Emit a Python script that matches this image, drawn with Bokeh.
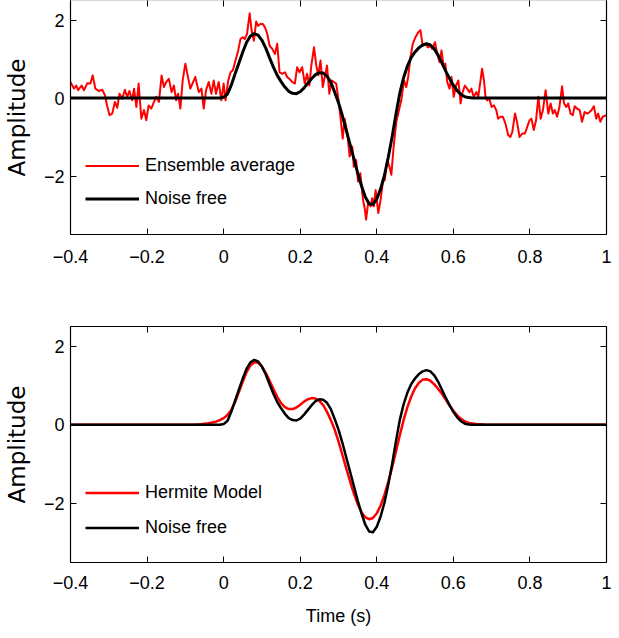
from bokeh.plotting import figure
from bokeh.layouts import column
from bokeh.models import LinearAxis, Range1d, FixedTicker, Legend, LegendItem
from bokeh.embed import file_html
from bokeh.resources import INLINE

# ---------------- data ----------------
x_ticks = [-0.4, -0.2, 0, 0.2, 0.4, 0.6, 0.8, 1]
x_tick_labels = ["\u22120.4", "\u22120.2", "0", "0.2", "0.4", "0.6", "0.8", "1"]
y_ticks = [-2, 0, 2]
y_tick_labels = ["\u22122", "0", "2"]

# noise-free signal
nf_t = [-0.40, -0.02, -0.01, 0.00, 0.01, 0.02, 0.03, 0.04, 0.05, 0.06, 0.07, 0.08, 0.09,
        0.10, 0.11, 0.12, 0.13, 0.14, 0.15, 0.16, 0.17, 0.18, 0.19, 0.20, 0.21, 0.22,
        0.23, 0.24, 0.25, 0.26, 0.27, 0.28, 0.29, 0.30, 0.31, 0.32, 0.33, 0.34, 0.35,
        0.36, 0.37, 0.38, 0.39, 0.40, 0.41, 0.42, 0.43, 0.44, 0.45, 0.46, 0.47, 0.48,
        0.49, 0.50, 0.51, 0.52, 0.53, 0.54, 0.55, 0.56, 0.57, 0.58, 0.59, 0.60, 0.61,
        0.62, 0.63, 0.64, 0.65, 1.00]
nf_amp = [0.0, 0.0, 0.0, 0.02, 0.10, 0.33, 0.62, 0.90, 1.18, 1.43, 1.59, 1.65, 1.61,
          1.48, 1.28, 1.03, 0.79, 0.58, 0.42, 0.28, 0.17, 0.12, 0.11, 0.16, 0.26, 0.38,
          0.50, 0.60, 0.65, 0.64, 0.56, 0.40, 0.15, -0.12, -0.45, -0.82, -1.18, -1.55, -1.92,
          -2.25, -2.54, -2.71, -2.73, -2.59, -2.33, -1.98, -1.52, -1.00, -0.42, 0.12, 0.52, 0.82,
          1.04, 1.18, 1.29, 1.36, 1.39, 1.36, 1.26, 1.10, 0.90, 0.69, 0.50, 0.33, 0.19,
          0.09, 0.03, 0.01, 0.0, 0.0]

# Hermite model
hm_t = [-0.40, -0.10, -0.08, -0.06, -0.04, -0.02, -0.01, 0.00, 0.01, 0.02, 0.03, 0.04,
        0.05, 0.06, 0.07, 0.08, 0.09, 0.10, 0.11, 0.12, 0.13, 0.14, 0.15, 0.16, 0.17,
        0.18, 0.19, 0.20, 0.21, 0.22, 0.23, 0.24, 0.25, 0.26, 0.27, 0.28, 0.29, 0.30,
        0.31, 0.32, 0.33, 0.34, 0.35, 0.36, 0.37, 0.38, 0.39, 0.40, 0.41, 0.42, 0.43,
        0.44, 0.45, 0.46, 0.47, 0.48, 0.49, 0.50, 0.51, 0.52, 0.53, 0.54, 0.55, 0.56,
        0.57, 0.58, 0.59, 0.60, 0.61, 0.62, 0.63, 0.64, 0.66, 0.68, 0.72, 1.00]
hm_amp = [0.0, 0.0, 0.005, 0.015, 0.04, 0.08, 0.12, 0.17, 0.25, 0.38, 0.58, 0.84,
          1.10, 1.34, 1.51, 1.59, 1.58, 1.48, 1.32, 1.12, 0.91, 0.71, 0.55, 0.45, 0.40,
          0.40, 0.44, 0.51, 0.59, 0.65, 0.68, 0.67, 0.61, 0.50, 0.33, 0.12, -0.12, -0.42,
          -0.76, -1.10, -1.43, -1.74, -2.01, -2.22, -2.35, -2.40, -2.37, -2.25, -2.05, -1.78, -1.45,
          -1.08, -0.68, -0.27, 0.12, 0.45, 0.72, 0.93, 1.07, 1.15, 1.16, 1.12, 1.03, 0.92,
          0.79, 0.64, 0.49, 0.36, 0.24, 0.15, 0.09, 0.05, 0.02, 0.01, 0.0, 0.0]

# ensemble average (noisy)
ens_t = [-0.400, -0.391, -0.385, -0.380, -0.371, -0.365, -0.356, -0.348, -0.342, -0.335,
         -0.326, -0.317, -0.310, -0.304, -0.298, -0.291, -0.284, -0.278, -0.272, -0.265,
         -0.258, -0.252, -0.246, -0.239, -0.234, -0.228, -0.222, -0.215, -0.208, -0.202,
         -0.196, -0.189, -0.182, -0.176, -0.169, -0.162, -0.156, -0.150, -0.143, -0.136,
         -0.130, -0.124, -0.119, -0.113, -0.107, -0.100, -0.087, -0.074, -0.065, -0.058,
         -0.052, -0.046, -0.039, -0.032, -0.026, -0.020, -0.013, -0.006, 0.000, 0.005,
         0.012, 0.018, 0.024, 0.031, 0.038, 0.044, 0.050, 0.055, 0.061, 0.068,
         0.073, 0.079, 0.085, 0.090, 0.096, 0.102, 0.108, 0.114, 0.120, 0.127,
         0.134, 0.140, 0.146, 0.153, 0.160, 0.166, 0.172, 0.179, 0.186, 0.192,
         0.198, 0.205, 0.212, 0.218, 0.224, 0.229, 0.236, 0.242, 0.247, 0.253,
         0.259, 0.264, 0.270, 0.276, 0.282, 0.288, 0.294, 0.299, 0.305, 0.311,
         0.316, 0.323, 0.329, 0.336, 0.340, 0.346, 0.351, 0.357, 0.364, 0.369,
         0.372, 0.378, 0.384, 0.388, 0.392, 0.397, 0.404, 0.410, 0.416, 0.421,
         0.427, 0.433, 0.438, 0.444, 0.451, 0.458, 0.464, 0.471, 0.477, 0.482,
         0.488, 0.494, 0.501, 0.508, 0.514, 0.520, 0.527, 0.534, 0.540, 0.545,
         0.552, 0.558, 0.564, 0.569, 0.575, 0.579, 0.584, 0.590, 0.595, 0.601,
         0.607, 0.613, 0.619, 0.623, 0.630, 0.636, 0.642, 0.647, 0.653, 0.660,
         0.665, 0.671, 0.675, 0.680, 0.684, 0.688, 0.694, 0.700, 0.706, 0.712,
         0.717, 0.723, 0.729, 0.736, 0.743, 0.749, 0.754, 0.761, 0.767, 0.773,
         0.780, 0.787, 0.793, 0.799, 0.804, 0.810, 0.816, 0.822, 0.828, 0.834,
         0.841, 0.848, 0.854, 0.860, 0.865, 0.871, 0.877, 0.884, 0.889, 0.895,
         0.900, 0.906, 0.912, 0.917, 0.923, 0.930, 0.936, 0.943, 0.950, 0.956,
         0.961, 0.967, 0.973, 0.978, 0.984, 0.990, 1.000]
ens_amp = [0.41, 0.24, 0.32, 0.20, 0.32, 0.20, 0.38, 0.37, 0.58, 0.24,
           0.18, 0.21, 0.07, -0.21, -0.44, -0.40, -0.10, -0.25, 0.11, -0.02,
           0.21, 0.03, 0.18, -0.06, 0.24, -0.23, 0.37, -0.53, -0.31, -0.57,
           -0.19, -0.27, -0.10, 0.03, -0.10, 0.58, 0.28, 0.41, 0.49, 0.15,
           0.32, -0.06, 0.11, -0.27, 0.45, 0.88, 0.24, 0.54, 0.15, 0.24,
           -0.27, 0.20, 0.41, 0.11, 0.45, 0.11, 0.41, -0.06, 0.37, -0.06,
           0.45, 0.66, 0.71, 0.96, 1.22, 1.51, 1.56, 1.51, 1.64, 2.17,
           1.73, 1.47, 1.96, 1.85, 1.90, 1.90, 1.81, 1.64, 1.34, 1.26,
           1.13, 1.39, 0.66, 0.62, 0.66, 0.54, 0.49, 0.41, 0.37, 0.79,
           0.66, 0.79, 0.37, 0.62, 0.32, 0.83, 1.30, 0.83, 0.58, 0.96,
           0.28, 0.54, 0.83, 0.11, 0.45, 0.41, 0.37, 0.03, -0.48, -1.04,
           -0.53, -0.91, -1.50, -1.25, -1.76, -1.59, -2.14, -1.93, -2.61, -2.86,
           -3.12, -2.65, -2.78, -2.57, -2.78, -2.36, -2.95, -2.61, -2.14, -2.10,
           -1.59, -1.76, -1.97, -1.25, -0.61, -0.31, -0.06, 0.45, 0.28, 0.54,
           1.05, 1.39, 1.56, 1.68, 1.74, 1.34, 1.39, 1.30, 1.34, 1.26,
           1.43, 1.13, 0.92, 1.22, 0.79, 0.88, 0.41, 0.24, 0.54, 0.03,
           0.32, 0.45, -0.14, 0.11, 0.32, 0.24, 0.15, 0.24, 0.03, 0.15,
           0.03, 0.45, 0.75, 0.45, 0.03, -0.06, -0.02, -0.23, -0.19, -0.31,
           -0.53, -0.48, -0.48, -0.65, -0.95, -1.00, -0.87, -0.40, -0.65, -1.00,
           -0.91, -0.91, -0.74, -0.57, -0.53, -0.82, -0.57, 0.03, -0.53, -0.31,
           0.20, -0.40, -0.14, -0.40, -0.31, -0.48, -0.23, 0.30, -0.14, -0.23,
           -0.14, -0.40, -0.44, -0.21, -0.27, -0.31, -0.61, -0.36, -0.40, -0.36,
           -0.31, -0.21, -0.53, -0.40, -0.61, -0.48, -0.44]

# ---------------- styling ----------------
TXT_FONT = "'Liberation Sans Narrow', 'Liberation Sans', sans-serif"
TXT_SIZE = "18px"
YLAB_FONT = "DejaVu Sans"
YLAB_SIZE = "23px"
RED = "#ff0000"


def style_axis(ax, ticks, labels, show_labels=True):
    ax.ticker = FixedTicker(ticks=ticks)
    ax.major_tick_in = 6
    ax.major_tick_out = 0
    ax.minor_tick_in = 0
    ax.minor_tick_out = 0
    ax.major_tick_line_color = "black"
    ax.axis_line_color = "black"
    ax.axis_line_width = 1.2
    if show_labels:
        ax.major_label_overrides = dict(zip(ticks, labels))
        ax.major_label_text_font = TXT_FONT
        ax.major_label_text_font_size = TXT_SIZE
        ax.major_label_text_color = "black"
    else:
        ax.major_label_overrides = {t: "" for t in ticks}
        ax.major_label_text_font_size = "0px"
        ax.major_label_standoff = 0


def make_panel(frame_h, top_b, bottom_b, top_line_color, x_standoff, xlabel=None):
    p = figure(frame_width=536, frame_height=frame_h,
               x_range=Range1d(-0.4, 1.0), y_range=Range1d(-3.5, 2.5),
               output_backend="svg", toolbar_location=None,
               min_border_left=65, min_border_right=18,
               min_border_top=top_b, min_border_bottom=bottom_b)
    p.outline_line_color = None
    p.xgrid.visible = False
    p.ygrid.visible = False
    p.background_fill_color = "white"
    p.border_fill_color = "white"

    xa = p.xaxis[0]
    style_axis(xa, x_ticks, x_tick_labels)
    xa.major_label_standoff = x_standoff
    if xlabel:
        xa.axis_label = xlabel
        xa.axis_label_text_font = TXT_FONT
        xa.axis_label_text_font_size = TXT_SIZE
        xa.axis_label_text_font_style = "normal"
        xa.axis_label_text_color = "black"
        xa.axis_label_standoff = 14

    ya = p.yaxis[0]
    style_axis(ya, y_ticks, y_tick_labels)
    ya.major_label_standoff = 6
    ya.axis_label = "Amplitude"
    ya.axis_label_text_font = YLAB_FONT
    ya.axis_label_text_font_size = YLAB_SIZE
    ya.axis_label_text_font_style = "normal"
    ya.axis_label_text_color = "black"
    ya.axis_label_standoff = 11

    ra = LinearAxis()
    style_axis(ra, y_ticks, y_tick_labels, show_labels=False)
    p.add_layout(ra, "right")

    ta = LinearAxis()
    style_axis(ta, x_ticks, x_tick_labels, show_labels=False)
    ta.axis_line_color = top_line_color
    p.add_layout(ta, "above")
    return p


# top panel
p1 = make_panel(234, 0, 56, "#d8d8d8", 15)
r_ens = p1.line(ens_t, ens_amp, line_color=RED, line_width=2, line_join="round")
r_nf1 = p1.line(nf_t, nf_amp, line_color="black", line_width=3, line_join="round")
leg1 = Legend(items=[LegendItem(label="Ensemble average", renderers=[r_ens]),
                     LegendItem(label="Noise free", renderers=[r_nf1])],
              location=(15, 19.5))

# bottom panel
p2 = make_panel(236, 36, 76, "black", 13, xlabel="Time (s)")
r_hm = p2.line(hm_t, hm_amp, line_color=RED, line_width=2.5, line_join="round")
r_nf2 = p2.line(nf_t, nf_amp, line_color="black", line_width=2.5, line_join="round")
leg2 = Legend(items=[LegendItem(label="Hermite Model", renderers=[r_hm]),
                     LegendItem(label="Noise free", renderers=[r_nf2])],
              location=(15, 17.2))

for leg, gh, p in ((leg1, 33, p1), (leg2, 35, p2)):
    leg.border_line_color = None
    leg.background_fill_alpha = 0
    leg.margin = 0
    leg.padding = 0
    leg.spacing = 0
    leg.glyph_width = 54
    leg.glyph_height = gh
    leg.label_height = gh
    leg.label_standoff = 6
    leg.label_text_font = TXT_FONT
    leg.label_text_font_size = TXT_SIZE
    leg.label_text_color = "black"
    p.add_layout(leg)

layout = column(p1, p2, spacing=0)
open("out.html", "w").write(file_html(layout, INLINE))
